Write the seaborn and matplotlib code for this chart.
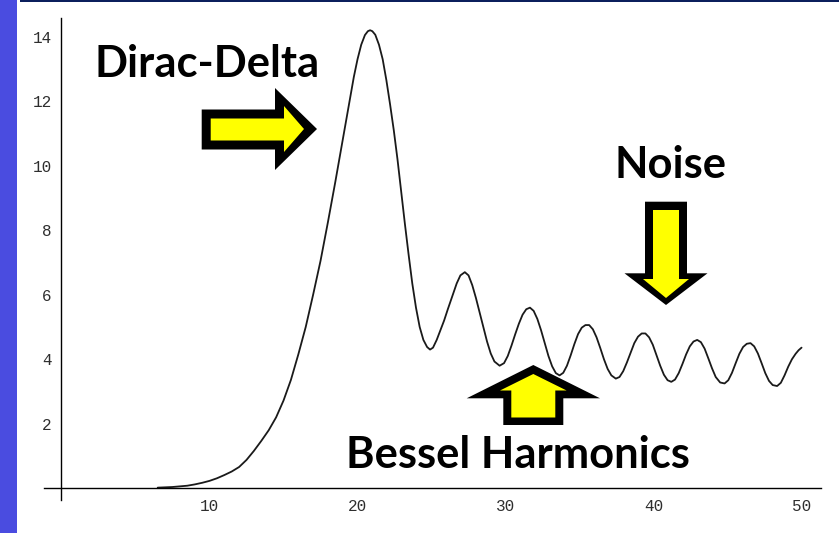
import numpy as np
import pandas as pd
import matplotlib
matplotlib.use("Agg")
import matplotlib.pyplot as plt
import matplotlib.patches as mpatches
from matplotlib.transforms import Affine2D
from matplotlib.ticker import FixedLocator
import seaborn as sns

# ---- data ----
x_vals = [6.5, 7.5, 8.5, 9.0, 9.5, 10.0, 10.5, 11.0, 11.5, 12.0, 12.5, 13.0,
          13.5, 14.0, 14.5, 15.0, 15.5, 16.0, 16.5, 17.0, 17.5, 18.0, 18.5,
          18.75, 19.0, 19.25,
          19.5, 19.75, 20.0, 20.25, 20.5, 20.7, 20.85, 21.0, 21.2, 21.45, 21.7,
          21.95, 22.2, 22.45, 22.7, 22.95, 23.2, 23.45, 23.7, 23.95, 24.2,
          24.45, 24.7, 24.9, 25.1, 25.35, 25.6, 25.85, 26.1, 26.4, 26.7,
          26.95, 27.25, 27.5, 27.75, 28.0, 28.25, 28.5, 28.75, 29.0, 29.25,
          29.6, 29.9, 30.15, 30.4, 30.65, 30.9, 31.15, 31.4, 31.65, 31.9,
          32.15, 32.4, 32.65, 32.9, 33.15, 33.4, 33.65, 33.9, 34.15, 34.4,
          34.65, 34.9, 35.15, 35.4, 35.65, 35.9, 36.15, 36.4, 36.65, 36.9,
          37.15, 37.45, 37.7, 37.95, 38.2, 38.45, 38.7, 38.95, 39.2, 39.45,
          39.7, 39.95, 40.2, 40.45, 40.7, 40.95, 41.2, 41.45, 41.7, 41.95,
          42.2, 42.45, 42.7, 42.95, 43.2, 43.45, 43.7, 43.95, 44.2, 44.5,
          44.8, 45.05, 45.3, 45.55, 45.8, 46.05, 46.3, 46.55, 46.8, 47.05,
          47.3, 47.55, 47.8, 48.05, 48.35, 48.6, 48.85, 49.1, 49.35, 49.6,
          49.8, 50.0]
y_vals = [0.02, 0.04, 0.08, 0.12, 0.17, 0.23, 0.31, 0.41, 0.52, 0.66, 0.88, 1.16,
          1.47, 1.8, 2.2, 2.72, 3.36, 4.15, 5.0, 6.0, 7.05, 8.25, 9.5,
          10.15, 10.8, 11.45,
          12.1, 12.75, 13.3, 13.75, 14.05, 14.17, 14.2, 14.17, 14.06, 13.75, 13.3,
          12.65, 11.9, 11.1, 10.2, 9.2, 8.2, 7.25, 6.35, 5.6, 5.0,
          4.6, 4.38, 4.3, 4.36, 4.6, 4.9, 5.2, 5.55, 5.95, 6.35,
          6.6, 6.7, 6.6, 6.3, 5.9, 5.45, 5.0, 4.55, 4.18, 3.93,
          3.8, 3.88, 4.1, 4.42, 4.77, 5.1, 5.38, 5.55, 5.6, 5.5,
          5.25, 4.9, 4.5, 4.1, 3.78, 3.57, 3.5, 3.58, 3.8, 4.12,
          4.47, 4.78, 4.98, 5.06, 5.06, 4.93, 4.68, 4.35, 4.0, 3.7,
          3.5, 3.4, 3.45, 3.63, 3.9, 4.2, 4.5, 4.7, 4.8, 4.8,
          4.68, 4.45, 4.13, 3.8, 3.52, 3.35, 3.3, 3.37, 3.57, 3.85,
          4.15, 4.4, 4.55, 4.6, 4.53, 4.33, 4.03, 3.72, 3.45, 3.28,
          3.25, 3.35, 3.58, 3.88, 4.17, 4.38, 4.48, 4.5, 4.4, 4.18,
          3.88, 3.57, 3.33, 3.2, 3.17, 3.27, 3.5, 3.77, 4.0, 4.17,
          4.28, 4.36]
x_ticks = [10, 20, 30, 40, 50]
y_ticks = [2, 4, 6, 8, 10, 12, 14]
labels = ["Dirac-Delta", "Noise", "Bessel Harmonics"]

df = pd.DataFrame({"x": x_vals, "y": y_vals})

sns.set_style("white")
W, H = 839, 533
fig = plt.figure(figsize=(W / 100, H / 100), dpi=100)
ax = fig.add_axes([0, 0, 1, 1])
ax.set_facecolor("white")

sns.lineplot(data=df, x="x", y="y", ax=ax, color="#1a1a1a", linewidth=1.3,
             sort=False, estimator=None)

ax.set_xlim(-4.155, 52.53)
ax.set_ylim(-1.386, 15.137)
ax.set_xlabel("")
ax.set_ylabel("")

for s in ["top", "right"]:
    ax.spines[s].set_visible(False)
ax.spines["left"].set_position(("data", 0))
ax.spines["bottom"].set_position(("data", 0))
ax.spines["left"].set_bounds(-0.36, 14.58)
ax.spines["bottom"].set_bounds(-1.2, 51.3)
for s in ["left", "bottom"]:
    ax.spines[s].set_color("black")
    ax.spines[s].set_linewidth(1.0)

ax.xaxis.set_major_locator(FixedLocator(x_ticks))
ax.yaxis.set_major_locator(FixedLocator(y_ticks))
ax.xaxis.set_minor_locator(FixedLocator([v for v in range(2, 52, 2) if v % 10]))
ax.yaxis.set_minor_locator(FixedLocator([v / 2 for v in range(1, 30) if v % 4]))
ax.set_xticklabels([str(t) for t in x_ticks])
ax.set_yticklabels([str(t) for t in y_ticks])
ax.tick_params(which="major", direction="in", length=3.5, width=0.8,
               color="black", labelsize=11.5, labelcolor="#2e2e2e")
ax.tick_params(which="minor", direction="in", length=2.2, width=0.8,
               color="black")
ax.tick_params(axis="y", which="major", pad=7)
ax.tick_params(axis="x", which="major", pad=8)
for lab in ax.get_xticklabels() + ax.get_yticklabels():
    lab.set_fontfamily("Liberation Mono")

# pixel-coordinate transform (origin top-left)
px = Affine2D().scale(1 / W, -1 / H).translate(0, 1) + fig.transFigure

# slide decorations
ax.add_patch(mpatches.Rectangle((0, 0), 16.7, H, transform=px,
                                facecolor="#4a4ce0", edgecolor="none",
                                clip_on=False, zorder=6))
ax.add_patch(mpatches.Rectangle((20, 0), W - 20, 1.6, transform=px,
                                facecolor="#0b1f5c", edgecolor="none",
                                clip_on=False, zorder=6))

YEL = "#ffff00"

def arrow(outer, inner):
    ax.add_patch(mpatches.Polygon(outer, closed=True, transform=px,
                                  facecolor="black", edgecolor="none",
                                  clip_on=False, zorder=5))
    ax.add_patch(mpatches.Polygon(inner, closed=True, transform=px,
                                  facecolor=YEL, edgecolor="none",
                                  clip_on=False, zorder=5))

# right arrow (Dirac-Delta)
arrow([(201.7, 109.5), (275, 109.5), (275, 88), (317, 129), (275, 170),
       (275, 149.5), (201.7, 149.5)],
      [(210.7, 118.5), (284, 118.5), (284, 106), (304, 129), (284, 152),
       (284, 140.5), (210.7, 140.5)])
# up arrow (Bessel)
arrow([(533.3, 365), (600, 398.3), (563.3, 398.3), (563.3, 425), (503.3, 425),
       (503.3, 398.3), (466.7, 398.3)],
      [(533.3, 374), (566.6, 390.5), (555.3, 390.5), (555.3, 417.5),
       (511.3, 417.5), (511.3, 390.5), (500, 390.5)])
# down arrow (Noise)
arrow([(645, 201.7), (687, 201.7), (687, 273.3), (707.5, 273.3), (666, 305),
       (624.5, 273.3), (645, 273.3)],
      [(653, 210), (679, 210), (679, 279), (689, 279), (666, 298),
       (643, 279), (653, 279)])

font = dict(family="Lato", weight="bold", color="black", transform=px,
            zorder=7, clip_on=False)
ax.text(95, 77, labels[0], fontsize=31.3, ha="left", va="baseline", **font)
ax.text(614, 178, labels[1], fontsize=31.3, ha="left", va="baseline", **font)
ax.text(346, 468, labels[2], fontsize=31.3, ha="left", va="baseline", **font)

fig.savefig("out.png", dpi=100, facecolor="white")
